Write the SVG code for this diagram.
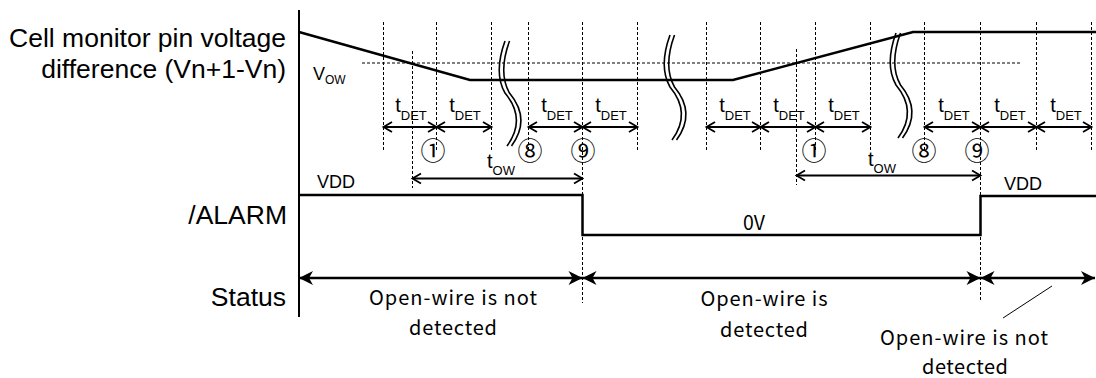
<svg xmlns="http://www.w3.org/2000/svg" width="1096" height="378" viewBox="0 0 1096 378">
<style>
.lbl{font-family:"Liberation Sans",Arial,sans-serif;fill:#000}
.big{font-size:26.5px;text-anchor:end}
.jp{font-family:"Noto Sans CJK JP","Noto Sans",sans-serif;font-size:20px;fill:#000;text-anchor:middle}
.dash{stroke:#000;stroke-width:1;stroke-dasharray:3 2;fill:none}
.wave{stroke:#000;stroke-width:2.5;fill:none}
.dim{stroke:#000;stroke-width:2;fill:none;marker-start:url(#oa);marker-end:url(#oa)}
.st{stroke:#000;stroke-width:2.5;fill:none;marker-start:url(#fa);marker-end:url(#fa)}
.tl{font-size:20px;text-anchor:middle}
.sub{font-size:13px}
.circ{font-family:"Noto Sans CJK JP",sans-serif;font-size:25px;text-anchor:middle;fill:#000}
</style>
<defs>
<marker id="oa" viewBox="-10 -7 13 14" refX="0" refY="0" markerWidth="13" markerHeight="14" markerUnits="userSpaceOnUse" orient="auto-start-reverse" overflow="visible">
<path d="M-8.5,-5 L0,0 L-8.5,5" fill="none" stroke="#000" stroke-width="1.8"/>
</marker>
<marker id="fa" viewBox="-15 -8 17 16" refX="0" refY="0" markerWidth="17" markerHeight="16" markerUnits="userSpaceOnUse" orient="auto-start-reverse" overflow="visible">
<path d="M0,0 L-14,-7 L-10,0 L-14,7 Z" fill="#000"/>
</marker>
<g id="brkSym" fill="none" stroke="#000" stroke-width="1.6">
<path d="M0,0 C-8,22 -8,38 0,52 C10,64 19,82 2,105"/>
<path d="M4.5,0 C-3.5,22 -3.5,38 4.5,52 C14.5,64 23.5,82 6.5,105"/>
</g>
</defs>
<rect width="1096" height="378" fill="#fff"/>

<g id="row-labels" class="lbl">
<text class="big" x="286" y="47">Cell monitor pin voltage</text>
<text class="big" x="286" y="78">difference (Vn+1-Vn)</text>
<text class="big" x="287" y="224">/ALARM</text>
<text class="big" x="286" y="306">Status</text>
</g>

<g id="grid">
<path class="dash" d="M362,63 H1022"/>
<path class="dash" d="M383.5,22 V150 M436.5,22 V150 M491.5,22 V150 M528.5,22 V150 M637.5,22 V150 M706.5,22 V150 M760.5,22 V150 M815.5,22 V150 M870.5,22 V150 M924.5,22 V150 M1036.5,22 V150 M1091.5,22 V150"/>
<path class="dash" d="M582.5,22 V303 M980.5,22 V302"/>
<path class="dash" d="M412.5,51 V188 M796.5,49 V185"/>
</g>

<g id="axis">
<path d="M299,10 V317" stroke="#000" stroke-width="2" fill="none"/>
</g>

<g id="voltage-waveform">
<path class="wave" d="M299,32 L470,80 L733,80 L913,32 L1096,32"/>
<text class="lbl" x="313" y="80" font-size="18">V<tspan font-size="12" dy="4">OW</tspan></text>
</g>

<g id="breaks">
<use href="#brkSym" transform="translate(505,41)"/>
<use href="#brkSym" transform="translate(670,35)"/>
<use href="#brkSym" transform="translate(896,33)"/>
</g>

<g id="connectors">
<path class="dim" d="M383.5,127 H436.5"/>
<path class="dim" d="M436.5,127 H491.5"/>
<path class="dim" d="M528.5,127 H582.5"/>
<path class="dim" d="M582.5,127 H637.5"/>
<path class="dim" d="M706.5,127 H760.5"/>
<path class="dim" d="M760.5,127 H815.5"/>
<path class="dim" d="M815.5,127 H870.5"/>
<path class="dim" d="M924.5,127 H980.5"/>
<path class="dim" d="M980.5,127 H1036.5"/>
<path class="dim" d="M1036.5,127 H1091.5"/>
<path class="dim" d="M412.5,178.5 H582.5"/>
<path class="dim" d="M796.5,175.5 H980.5"/>
<path class="st" d="M299,278 H582.5"/>
<path class="st" d="M582.5,278 H980.5"/>
<path class="st" d="M980.5,278 H1095"/>
<path d="M1052,286 L1003,318" stroke="#000" stroke-width="1" fill="none"/>
</g>

<g id="tdet-labels" class="lbl">
<text class="tl" x="411" y="112">t<tspan class="sub" dy="8">DET</tspan></text>
<text class="tl" x="465" y="112">t<tspan class="sub" dy="8">DET</tspan></text>
<text class="tl" x="557" y="112">t<tspan class="sub" dy="8">DET</tspan></text>
<text class="tl" x="611" y="112">t<tspan class="sub" dy="8">DET</tspan></text>
<text class="tl" x="735" y="112">t<tspan class="sub" dy="8">DET</tspan></text>
<text class="tl" x="789" y="112">t<tspan class="sub" dy="8">DET</tspan></text>
<text class="tl" x="844" y="112">t<tspan class="sub" dy="8">DET</tspan></text>
<text class="tl" x="954" y="112">t<tspan class="sub" dy="8">DET</tspan></text>
<text class="tl" x="1010" y="112">t<tspan class="sub" dy="8">DET</tspan></text>
<text class="tl" x="1066" y="112">t<tspan class="sub" dy="8">DET</tspan></text>
<text class="tl" x="501" y="168">t<tspan class="sub" dy="7">OW</tspan></text>
<text class="tl" x="882" y="166">t<tspan class="sub" dy="7">OW</tspan></text>
</g>

<g id="step-numbers">
<text class="circ" x="433" y="160">①</text>
<text class="circ" x="530" y="160">⑧</text>
<text class="circ" x="583" y="160">⑨</text>
<text class="circ" x="814" y="160">①</text>
<text class="circ" x="924" y="160">⑧</text>
<text class="circ" x="977" y="160">⑨</text>
</g>

<g id="alarm-waveform">
<path class="wave" d="M299,195 H582.5 V235 H980.5 V196 H1096"/>
<text class="lbl" x="317" y="188" font-size="18">VDD</text>
<text class="lbl" x="1004" y="190" font-size="18">VDD</text>
<text class="jp" x="754" y="230" font-size="16" textLength="22" lengthAdjust="spacingAndGlyphs">0V</text>
</g>

<g id="status-texts">
<text class="jp" x="453" y="305" textLength="168">Open-wire is not</text>
<text class="jp" x="453" y="335" textLength="88">detected</text>
<text class="jp" x="764" y="306" textLength="127">Open-wire is</text>
<text class="jp" x="764" y="337" textLength="88">detected</text>
<text class="jp" x="964" y="345" textLength="168">Open-wire is not</text>
<text class="jp" x="965" y="374" textLength="86">detected</text>
</g>
</svg>
